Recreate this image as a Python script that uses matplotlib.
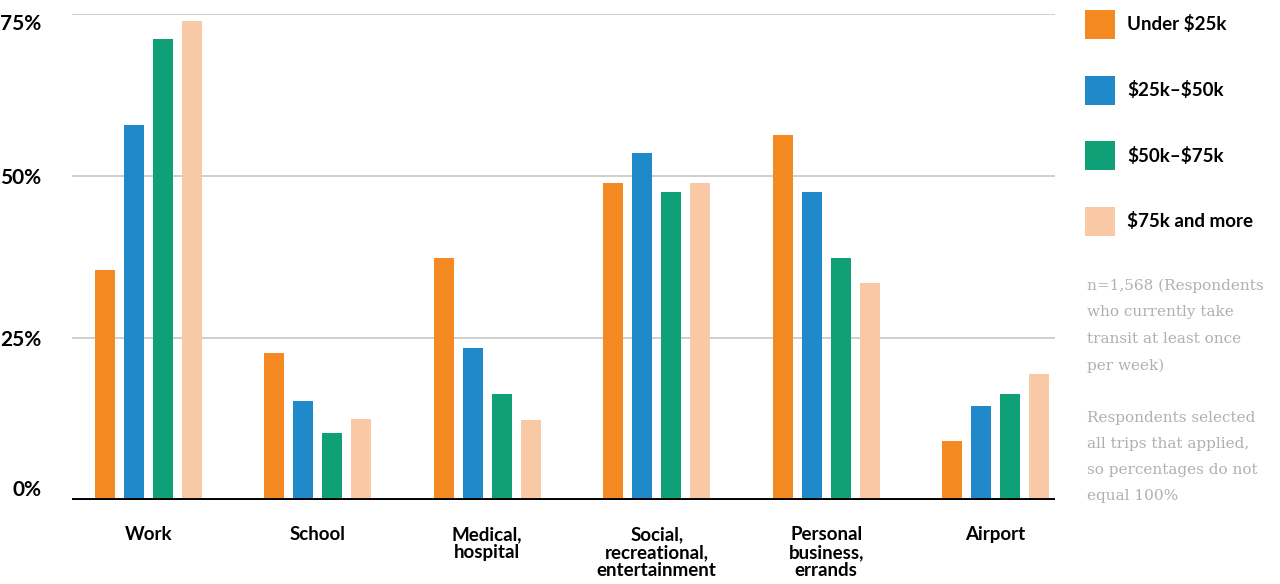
import matplotlib.pyplot as plt
import numpy as np

# trip purposes and share of respondents (%) by household income
trips = ['Work', 'School', 'Medical,\nhospital', 'Social,\nrecreational,\nentertainment',
         'Personal\nbusiness,\nerrands', 'Airport']
groups = ['Under \\$25k', '\\$25k–\\$50k', '\\$50k–\\$75k', '\\$75k and more']
under_25k = [35.5, 22.7, 37.4, 48.9, 56.4, 9.1]
k25_50 = [57.9, 15.3, 23.5, 53.5, 47.5, 14.5]
k50_75 = [71.1, 10.3, 16.4, 47.5, 37.4, 16.4]
k75_plus = [73.9, 12.5, 12.4, 48.9, 33.5, 19.4]
yticks = [0, 25, 50, 75]

colors = ['#F58A22', '#1F89CA', '#0FA077', '#F9C9A6']
series = [under_25k, k25_50, k50_75, k75_plus]

fig = plt.figure(figsize=(12.8, 5.84), dpi=100)
ax = fig.add_axes([72 / 1280, 1 - 500 / 584, (1055 - 72) / 1280, 486 / 584])

x = np.arange(len(trips))
step = 0.171
width = 0.118
bars = []
for i, vals in enumerate(series):
    b = ax.bar(x + (i - 1.5) * step, vals, width=width, color=colors[i], label=groups[i], zorder=3)
    bars.append(b)

ax.set_xlim(-0.45, 5.35)
ax.set_ylim(0, 75)

# gridlines + thick baseline
for t in yticks[1:]:
    ax.axhline(t, color='#cccccc', lw=1.3, zorder=1)
ax.axhline(0, color='black', lw=2.8, zorder=4)

for s in ax.spines.values():
    s.set_visible(False)

ax.set_yticks(yticks)
ax.set_yticklabels([f'{t}%' for t in yticks], fontfamily='Lato', fontweight='bold', fontsize=15)
ax.tick_params(axis='y', length=0, pad=22)
labs = ax.get_yticklabels()
labs[0].set_va('bottom')
labs[-1].set_va('top')

ax.set_xticks(x)
ax.set_xticklabels(trips, fontfamily='Lato', fontweight='bold', fontsize=13.5, linespacing=1.05)
ax.tick_params(axis='x', length=0, pad=19)

fig.legend(handles=bars, labels=groups, loc='upper left', bbox_to_anchor=(1085 / 1280, 1 - 10 / 584),
           frameon=False, prop={'family': 'Lato', 'weight': 'bold', 'size': 13.5},
           handlelength=1.6, handleheight=2.0, labelspacing=1.95, handletextpad=0.64,
           borderpad=0, borderaxespad=0)

note1 = 'n=1,568 (Respondents\nwho currently take\ntransit at least once\nper week)'
note2 = 'Respondents selected\nall trips that applied,\nso percentages do not\nequal 100%'
fig.text(1087 / 1280, 1 - 279 / 584, note1, ha='left', va='top', fontfamily='DejaVu Serif',
         fontsize=11, color='#b0b0b0', linespacing=2.1)
fig.text(1087 / 1280, 1 - 411 / 584, note2, ha='left', va='top', fontfamily='DejaVu Serif',
         fontsize=11, color='#b0b0b0', linespacing=2.1)

fig.savefig('out.png', dpi=100)
